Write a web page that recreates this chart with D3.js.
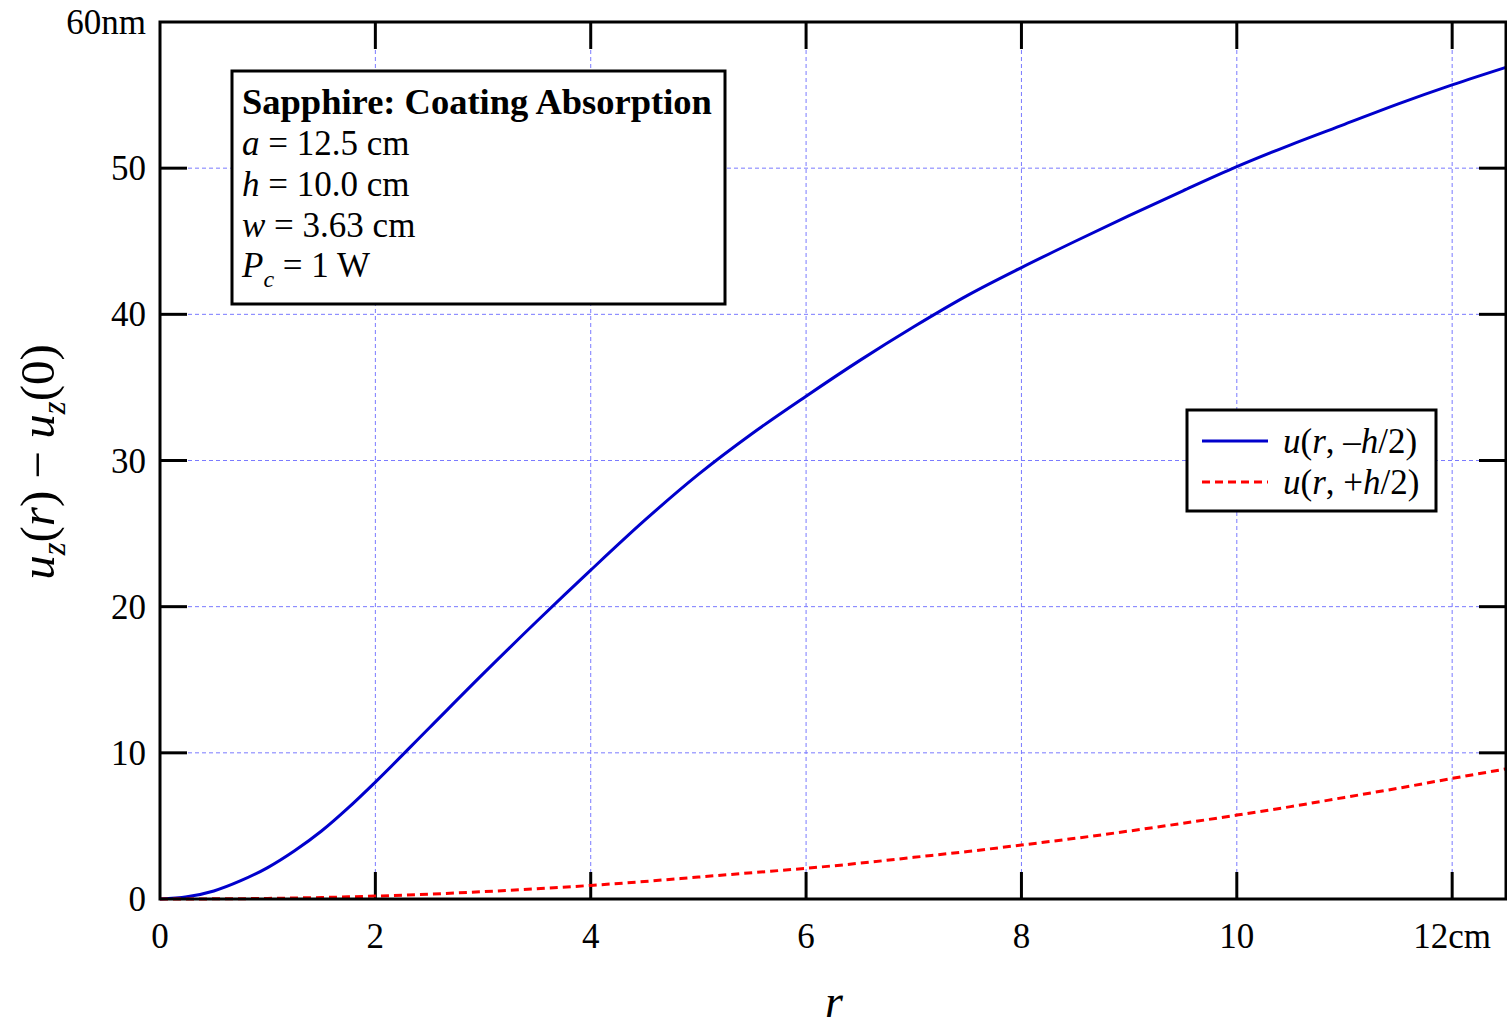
<!DOCTYPE html>
<html><head><meta charset="utf-8">
<script src="https://cdn.jsdelivr.net/npm/d3@7"></script>
<style>
html,body{margin:0;padding:0;background:#fff;}
svg text{font-family:"Liberation Serif","Times New Roman",serif;}
</style></head>
<body><svg id="c" width="1507" height="1027"></svg>
<script>
const rValues = [0,0.25,0.5,0.75,1,1.25,1.5,1.75,2,2.5,3,3.5,4,4.5,5,5.5,6,6.5,7,7.5,8,8.5,9,9.5,10,10.5,11,11.5,12,12.5];
const uBottom = [0,0.15,0.55,1.25,2.15,3.3,4.65,6.25,8.0,11.7,15.4,19.0,22.5,25.9,29.05,31.85,34.4,36.85,39.15,41.3,43.2,45.0,46.75,48.45,50.1,51.6,53.0,54.4,55.7,56.9];
const uTop = [0,0.005,0.01,0.02,0.04,0.07,0.1,0.15,0.2,0.33,0.5,0.7,0.93,1.2,1.5,1.8,2.1,2.45,2.85,3.25,3.69,4.15,4.65,5.18,5.74,6.32,6.95,7.58,8.25,8.9];
const xTicks = [0,2,4,6,8,10,12];
const xTickLabels = ["0","2","4","6","8","10","12cm"];
const yTicks = [0,10,20,30,40,50,60];
const yTickLabels = ["0","10","20","30","40","50","60nm"];
const legendLabels = [["u","(","r",", –","h","/2)"],["u","(","r",", +","h","/2)"]];

const svg = d3.select("#c");
const L=160, R=1506, T=22, B=899;
const x = d3.scaleLinear().domain([0,12.5]).range([L,R]);
const y = d3.scaleLinear().domain([0,60]).range([B,T]);
const gridColor = "#7a7aff";
const FS = 35;

// grid
const g = svg.append("g");
g.selectAll(".vg").data(xTicks.filter(d=>d>0)).join("line")
  .attr("x1",d=>x(d)).attr("x2",d=>x(d)).attr("y1",T).attr("y2",B)
  .attr("stroke",gridColor).attr("stroke-width",1).attr("stroke-dasharray","4,3");
g.selectAll(".hg").data(yTicks.filter(d=>d>0&&d<60)).join("line")
  .attr("x1",L).attr("x2",R).attr("y1",d=>y(d)).attr("y2",d=>y(d))
  .attr("stroke",gridColor).attr("stroke-width",1).attr("stroke-dasharray","4,3");

// ticks (inward on all 4 sides)
const tl = 27;
const tk = svg.append("g").attr("stroke","#000").attr("stroke-width",3);
xTicks.filter(d=>d>0).forEach(d=>{
  tk.append("line").attr("x1",x(d)).attr("x2",x(d)).attr("y1",B).attr("y2",B-tl);
  tk.append("line").attr("x1",x(d)).attr("x2",x(d)).attr("y1",T).attr("y2",T+tl);
});
yTicks.filter(d=>d>0&&d<60).forEach(d=>{
  tk.append("line").attr("x1",L).attr("x2",L+tl).attr("y1",y(d)).attr("y2",y(d));
  tk.append("line").attr("x1",R).attr("x2",R-tl).attr("y1",y(d)).attr("y2",y(d));
});

// curves
const pts = (arr)=>rValues.map((r,i)=>[r,arr[i]]);
const line = d3.line().x(d=>x(d[0])).y(d=>y(d[1])).curve(d3.curveMonotoneX);
svg.append("path").attr("d",line(pts(uBottom))).attr("fill","none")
  .attr("stroke","#0000cc").attr("stroke-width",3);
svg.append("path").attr("d",line(pts(uTop))).attr("fill","none")
  .attr("stroke","#ff0000").attr("stroke-width",3).attr("stroke-dasharray","8,5");

// frame
svg.append("rect").attr("x",L).attr("y",T).attr("width",R-L).attr("height",B-T)
  .attr("fill","none").attr("stroke","#000").attr("stroke-width",3);

// tick labels
svg.selectAll(".xl").data(xTicks).join("text")
  .attr("x",d=>x(d)).attr("y",B+49).attr("text-anchor","middle")
  .attr("font-size",FS).text((d,i)=>xTickLabels[i]);
svg.selectAll(".yl").data(yTicks).join("text")
  .attr("x",L-14).attr("y",d=>y(d)+12).attr("text-anchor","end")
  .attr("font-size",FS).text((d,i)=>yTickLabels[i]);

// axis titles
svg.append("text").attr("x",834).attr("y",1017).attr("text-anchor","middle")
  .attr("font-size",46).attr("font-style","italic").text("r");
const yt = svg.append("text").attr("transform","translate(54,462) rotate(-90)")
  .attr("text-anchor","middle").attr("font-size",49);
yt.append("tspan").attr("font-style","italic").text("u");
yt.append("tspan").attr("font-style","italic").attr("font-size",33).attr("dy",11).text("z");
yt.append("tspan").attr("dy",-11).text("(");
yt.append("tspan").attr("font-style","italic").text("r");
yt.append("tspan").text(") − ");
yt.append("tspan").attr("font-style","italic").text("u");
yt.append("tspan").attr("font-style","italic").attr("font-size",33).attr("dy",11).text("z");
yt.append("tspan").attr("dy",-11).text("(0)");

// info box
svg.append("rect").attr("x",232).attr("y",71).attr("width",493).attr("height",233)
  .attr("fill","#fff").attr("stroke","#000").attr("stroke-width",3);
svg.append("text").attr("x",242).attr("y",114).attr("font-size",36.5).attr("font-weight","bold")
  .text("Sapphire: Coating Absorption");
const info = [["a"," = 12.5 cm"],["h"," = 10.0 cm"],["w"," = 3.63 cm"]];
info.forEach((p,i)=>{
  const t = svg.append("text").attr("x",242).attr("y",155+i*41).attr("font-size",FS);
  t.append("tspan").attr("font-style","italic").text(p[0]);
  t.append("tspan").text(p[1]);
});
const pc = svg.append("text").attr("x",242).attr("y",277).attr("font-size",FS);
pc.append("tspan").attr("font-style","italic").text("P");
pc.append("tspan").attr("font-style","italic").attr("font-size",24).attr("dy",10).text("c");
pc.append("tspan").attr("dy",-10).text(" = 1 W");

// legend
svg.append("rect").attr("x",1187).attr("y",410).attr("width",249).attr("height",101)
  .attr("fill","#fff").attr("stroke","#000").attr("stroke-width",3);
const legStyles = [{c:"#0000cc",d:null},{c:"#ff0000",d:"8,5"}];
legendLabels.forEach((lab,i)=>{
  const yy = 441 + i*41;
  const ln = svg.append("line").attr("x1",1202).attr("x2",1268).attr("y1",yy).attr("y2",yy)
    .attr("stroke",legStyles[i].c).attr("stroke-width",3);
  if(legStyles[i].d) ln.attr("stroke-dasharray",legStyles[i].d);
  const t = svg.append("text").attr("x",1283).attr("y",yy+12).attr("font-size",FS);
  lab.forEach((s,j)=>{
    t.append("tspan").attr("font-style",(j===0||j===2||j===4)?"italic":"normal").text(s);
  });
});
</script></body></html>
